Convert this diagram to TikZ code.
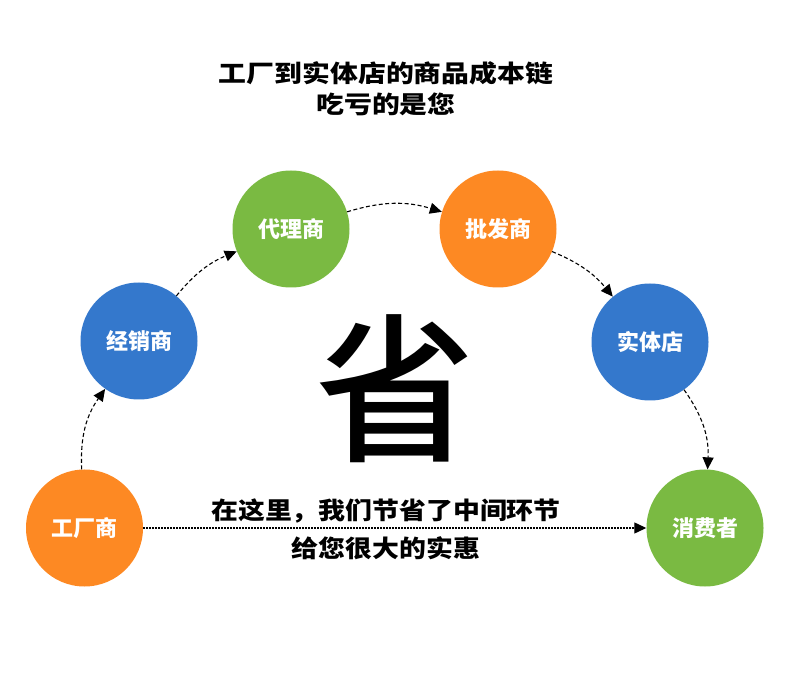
\documentclass[tikz,border=0pt]{standalone}
\usepackage{fontspec}
\newfontfamily\cjk{Noto Sans CJK SC}
\newfontfamily\cjkmid{Noto Sans CJK SC Medium}
\usetikzlibrary{arrows.meta}

\definecolor{chainorange}{RGB}{253,137,35}
\definecolor{chainblue}{RGB}{52,120,204}
\definecolor{chaingreen}{RGB}{122,186,66}

\begin{document}
\begin{tikzpicture}[x=10pt, y=10pt,
  stage/.style={circle, minimum size=117pt, inner sep=0pt, text=white,
    font=\cjk\bfseries\fontsize{22}{22}\selectfont},
  flow/.style={line width=1.1pt, dash pattern=on 4pt off 2.5pt,
    -{Triangle[length=12pt, width=11pt]}},
  direct/.style={line width=1.2pt, dash pattern=on 1.5pt off 1.5pt,
    -{Triangle[length=12pt, width=11pt]}},
  caption/.style={font=\cjk\bfseries\fontsize{24}{24}\selectfont}]

  \useasboundingbox (0,0) rectangle (79,68.6);

  % === TITLE ===
  \node[caption] (title1) at (38.6,61.3)
    {\scalebox{1.16}[1]{工厂到实体店的商品成本链}};
  \node[caption] (title2) at (38.6,58.2)
    {\scalebox{1.16}[1]{吃亏的是您}};

  % === CHAIN OF STAGES ===
  \node[stage, fill=chainorange] (factory) at (8.45,15.8) {工厂商};
  \node[stage, fill=chainblue]   (dealer)  at (13.9,34.5) {经销商};
  \node[stage, fill=chaingreen]  (agent)   at (29.1,45.7) {代理商};
  \node[stage, fill=chainorange] (whole)   at (49.8,45.7) {批发商};
  \node[stage, fill=chainblue]   (store)   at (65.0,34.4) {实体店};
  \node[stage, fill=chaingreen]  (buyer)   at (70.5,15.8) {消费者};

  % Arrows along the arc
  \draw[flow] (factory) to[bend left=19] (dealer);
  \draw[flow] (dealer)  to[bend left=14] (agent);
  \draw[flow] (agent)   to[bend left=17] (whole);
  \draw[flow] (whole)   to[bend left=14] (store);
  \draw[flow] (store)   to[bend left=19] (buyer);

  % Direct route
  \draw[direct] (factory) -- (buyer);

  % === CENTRE ===
  \node[font=\cjkmid\fontsize{160}{160}\selectfont] (save) at (39.5,29.7) {省};

  \node[caption] (note1) at (38.6,17.5)
    {\scalebox{1.12}[1]{在这里，我们节省了中间环节}};
  \node[caption] (note2) at (38.6,13.8)
    {\scalebox{1.12}[1]{给您很大的实惠}};

\end{tikzpicture}
\end{document}
